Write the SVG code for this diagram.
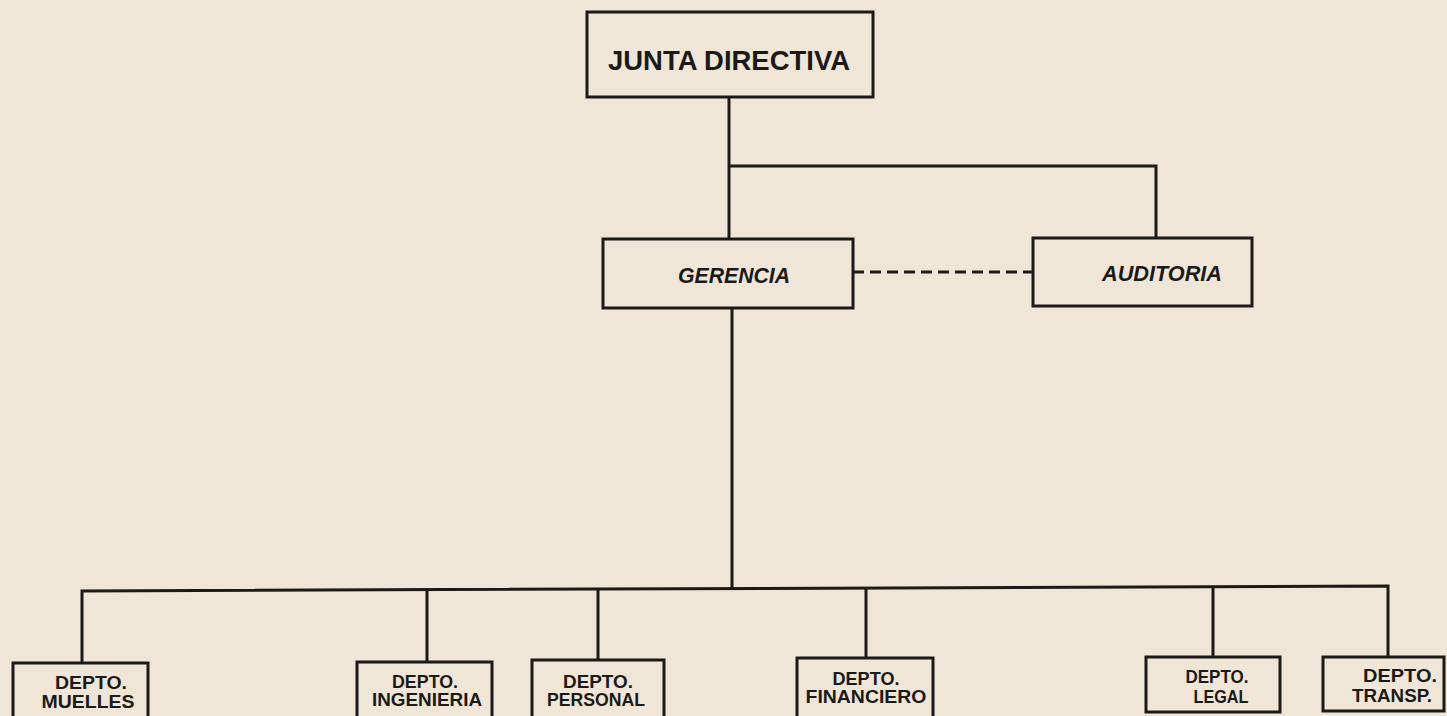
<svg xmlns="http://www.w3.org/2000/svg" width="1447" height="716" viewBox="0 0 1447 716">
<style>
.box{fill:none;stroke:#1c1a18;stroke-width:3}
.ln{fill:none;stroke:#1c1a18;stroke-width:3}
.dash{fill:none;stroke:#1c1a18;stroke-width:3;stroke-dasharray:11 6}
text{font-family:"Liberation Sans","DejaVu Sans",sans-serif;font-weight:bold;fill:#1c1a18;text-anchor:middle}
.t1{font-size:28px}
.t2{font-size:22px;font-style:italic}
.t3{font-size:18px}
</style>
<rect width="1447" height="716" fill="#efe6d7"/>
<g id="connectors">
<path class="ln" d="M729 97 V239"/>
<path class="ln" d="M729 166 H1156 V238"/>
<path class="dash" d="M853 272 H1033"/>
<path class="ln" d="M732 308 V589"/>
<path class="ln" d="M82 663 V591 L1388 586 V657"/>
<path class="ln" d="M427 590 V662"/>
<path class="ln" d="M598 589 V660"/>
<path class="ln" d="M866 588 V658"/>
<path class="ln" d="M1213 587 V657"/>
</g>
<g id="junta">
<rect class="box" x="587" y="12" width="286" height="85"/>
<text class="t1" x="729" y="70" textLength="242" lengthAdjust="spacingAndGlyphs">JUNTA DIRECTIVA</text>
</g>
<g id="gerencia">
<rect class="box" x="603" y="239" width="250" height="69"/>
<text class="t2" x="734" y="283" textLength="112" lengthAdjust="spacingAndGlyphs">GERENCIA</text>
</g>
<g id="auditoria">
<rect class="box" x="1033" y="238" width="219" height="68"/>
<text class="t2" x="1162" y="281" textLength="120" lengthAdjust="spacingAndGlyphs">AUDITORIA</text>
</g>
<g id="muelles">
<rect class="box" x="13" y="663" width="135" height="60"/>
<text class="t3" x="91" y="689" textLength="72" lengthAdjust="spacingAndGlyphs">DEPTO.</text>
<text class="t3" x="88" y="708" textLength="93" lengthAdjust="spacingAndGlyphs">MUELLES</text>
</g>
<g id="ingenieria">
<rect class="box" x="357" y="662" width="135" height="60"/>
<text class="t3" x="425" y="688" textLength="66" lengthAdjust="spacingAndGlyphs">DEPTO.</text>
<text class="t3" x="427" y="706" textLength="110" lengthAdjust="spacingAndGlyphs">INGENIERIA</text>
</g>
<g id="personal">
<rect class="box" x="532" y="660" width="132" height="62"/>
<text class="t3" x="598" y="688" textLength="70" lengthAdjust="spacingAndGlyphs">DEPTO.</text>
<text class="t3" x="596" y="706" textLength="98" lengthAdjust="spacingAndGlyphs">PERSONAL</text>
</g>
<g id="financiero">
<rect class="box" x="797" y="658" width="136" height="64"/>
<text class="t3" x="866" y="685" textLength="67" lengthAdjust="spacingAndGlyphs">DEPTO.</text>
<text class="t3" x="866" y="703" textLength="121" lengthAdjust="spacingAndGlyphs">FINANCIERO</text>
</g>
<g id="legal">
<rect class="box" x="1146" y="657" width="134" height="55"/>
<text class="t3" x="1217" y="683" textLength="63" lengthAdjust="spacingAndGlyphs">DEPTO.</text>
<text class="t3" x="1221" y="703" textLength="55" lengthAdjust="spacingAndGlyphs">LEGAL</text>
</g>
<g id="transp">
<rect class="box" x="1323" y="657" width="121" height="54"/>
<text class="t3" x="1400" y="682" textLength="74" lengthAdjust="spacingAndGlyphs">DEPTO.</text>
<text class="t3" x="1392" y="702" textLength="80" lengthAdjust="spacingAndGlyphs">TRANSP.</text>
</g>
</svg>
